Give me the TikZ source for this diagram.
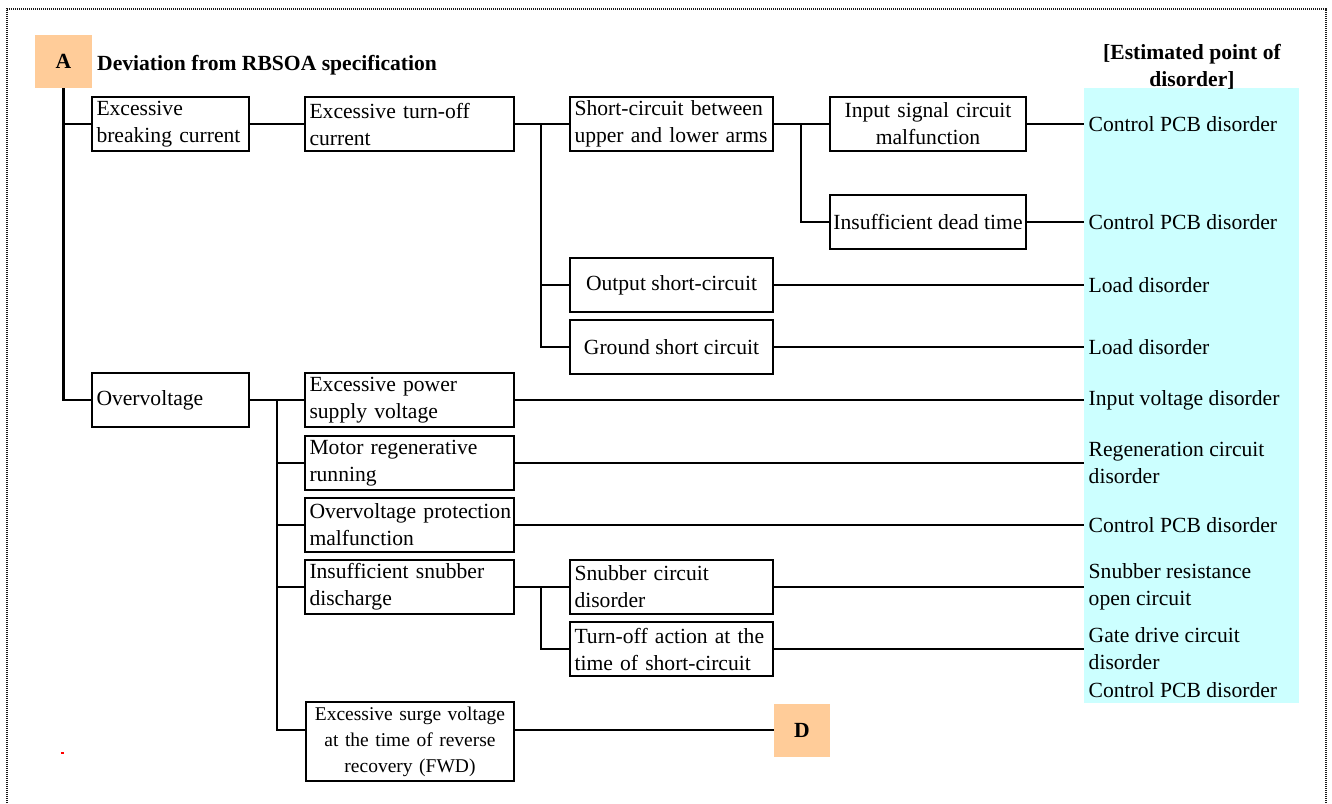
\documentclass[tikz,border=0pt]{standalone}
\usepackage{fontspec}
\setmainfont{Liberation Serif}
\definecolor{peach}{HTML}{FFCC99}
\definecolor{lcyan}{HTML}{CCFFFF}
\newcommand\fs{\fontsize{21.6}{27}\selectfont}
\newcommand\fss{\fontsize{19.5}{26}\selectfont}
\begin{document}
\begin{tikzpicture}[x=1pt,y=-1pt,font=\fs,
  bx/.style={draw,line width=2.3pt,inner xsep=4.5pt,inner ysep=0pt,align=left,minimum height=54pt},
  cbx/.style={draw,line width=2.3pt,inner xsep=0pt,inner ysep=0pt,align=center,minimum height=54pt},
  lab/.style={anchor=west,inner xsep=4.5pt,inner ysep=0pt,align=left},
  ln/.style={line width=2.3pt},
  tag/.style={fill=peach,minimum width=57pt,minimum height=53pt,inner sep=0pt,font=\fs\bfseries},
  border/.style={line width=2.4pt,dash pattern=on 1.2pt off 0.8pt,black!90}]
\useasboundingbox (0,0) rectangle (1332,803);
\fill[lcyan] (1084,88) rectangle (1299,703);
\draw[border] (7,803) -- (7,9) -- (1326,9) -- (1326,803);

% headers
\node[tag] (A) at (63.5,61.5) {A};
\node[anchor=base west,inner sep=0pt,font=\fs\bfseries] (T) at (97,70) {Deviation from RBSOA specification};
\node[align=center,inner sep=0pt,font=\fs\bfseries] (E) at (1192,67) {[Estimated point of\\disorder]};

% boxes
\node[bx,text width=148pt] (b1) at (170.5,124) {Excessive\\breaking current};
\node[bx,text width=200pt] (b2) at (409.5,124) {Excessive turn-off\\current};
\node[bx,text width=194pt] (b3) at (671.5,124) {\mbox{Short-circuit between}\\upper and lower arms};
\node[cbx,text width=196pt] (b4) at (928,124) {Input signal circuit\\malfunction};
\node[cbx,minimum width=196pt] (b5) at (928,222) {Insufficient dead time};
\node[cbx,minimum width=203pt] (b6) at (671.5,285) {Output short-circuit};
\node[cbx,minimum width=203pt] (b7) at (671.5,347) {Ground short circuit};
\node[bx,text width=148pt] (b8) at (170.5,400) {Overvoltage};
\node[bx,text width=200pt] (b9) at (409.5,400) {Excessive power\\supply voltage};
\node[bx,text width=200pt] (b10) at (409.5,463) {Motor regenerative\\running};
\node[bx,text width=200pt] (b11) at (409.5,525) {\mbox{Overvoltage protection}\\malfunction};
\node[bx,text width=200pt] (b12) at (409.5,587) {Insufficient snubber\\discharge};
\node[bx,text width=194pt] (b13) at (671.5,587) {Snubber circuit\\disorder};
\node[bx,text width=194pt] (b14) at (671.5,649) {\mbox{Turn-off action at the}\\time of short-circuit};
\node[cbx,text width=208pt,minimum height=79pt,font=\fss] (b15) at (410,741.5) {Excessive surge voltage\\at the time of reverse\\recovery (FWD)};
\node[tag,minimum width=56pt] (D) at (802,730) {D};

% right labels
\node[lab] (r1) at (1084,124) {Control PCB disorder};
\node[lab] (r2) at (1084,222) {Control PCB disorder};
\node[lab] (r3) at (1084,285) {Load disorder};
\node[lab] (r4) at (1084,347) {Load disorder};
\node[lab] (r5) at (1084,400) {Input voltage disorder};
\node[lab] (r6) at (1084,463) {Regeneration circuit\\disorder};
\node[lab] (r7) at (1084,525) {Control PCB disorder};
\node[lab] (r8) at (1084,587) {Snubber resistance\\open circuit};
\node[lab] (r9) at (1084,649) {Gate drive circuit\\disorder};
\node[lab] (r10) at (1084,690) {Control PCB disorder};

% junction points
\coordinate (j1) at (541,124);
\coordinate (j2) at (801,124);
\coordinate (j3) at (277,400);
\coordinate (j4) at (541,587);

% connectors
\draw[ln] (A.south) |- (b8.west);
\draw[ln] (A.south |- b1.west) -- (b1.west);
\draw[ln] (b1.east) -- (b2.west);
\draw[ln] (b2.east) -- (b3.west);
\draw[ln] (j1) |- (b7.west);
\draw[ln] (j1 |- b6.west) -- (b6.west);
\draw[ln] (b3.east) -- (b4.west);
\draw[ln] (j2) |- (b5.west);
\draw[ln] (b4.east) -- (r1.west);
\draw[ln] (b5.east) -- (r2.west);
\draw[ln] (b6.east) -- (r3.west);
\draw[ln] (b7.east) -- (r4.west);
\draw[ln] (b8.east) -- (b9.west);
\draw[ln] (j3) |- (b15.west |- D.west);
\draw[ln] (j3 |- b10.west) -- (b10.west);
\draw[ln] (j3 |- b11.west) -- (b11.west);
\draw[ln] (j3 |- b12.west) -- (b12.west);
\draw[ln] (b9.east) -- (r5.west);
\draw[ln] (b10.east) -- (r6.west);
\draw[ln] (b11.east) -- (r7.west);
\draw[ln] (b12.east) -- (b13.west);
\draw[ln] (j4) |- (b14.west);
\draw[ln] (b13.east) -- (r8.west);
\draw[ln] (b14.east) -- (r9.west);
\draw[ln] (b15.east |- D.west) -- (D.west);

\fill[red] (61,752) rectangle (64,754);
\end{tikzpicture}
\end{document}
